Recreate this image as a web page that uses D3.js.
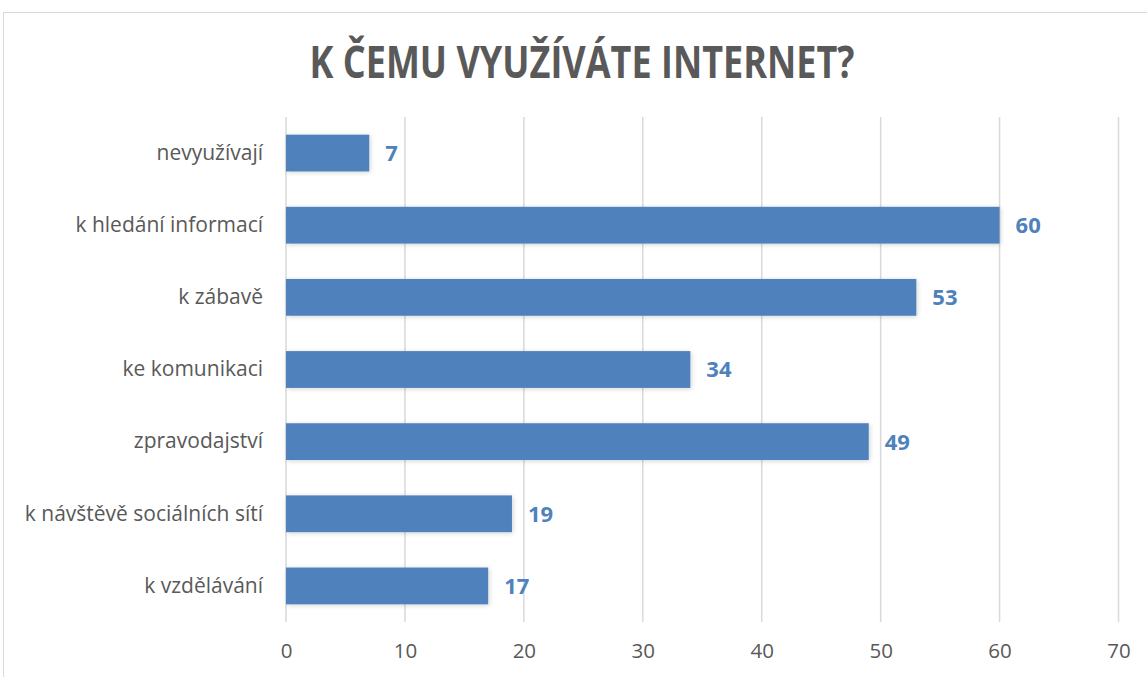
<!DOCTYPE html>
<html>
<head>
<meta charset="utf-8">
<script src="https://cdn.jsdelivr.net/npm/d3@7"></script>
<style>
body { margin: 0; background: #fff; }
svg { display: block; }
</style>
</head>
<body>
<svg id="graph"></svg>
<script>
var categories = ["nevyužívají", "k hledání informací", "k zábavě", "ke komunikaci", "zpravodajství", "k návštěvě sociálních sítí", "k vzdělávání"]
var values = [7, 60, 53, 34, 49, 19, 17]
var tickValues = [0, 10, 20, 30, 40, 50, 60, 70]
var title = "K ČEMU VYUŽÍVÁTE INTERNET?"

var screen = {width:1147, height:677}
var plot = {left:286, right:1118.5, top:117, bottom:622}
var font = "'Open Sans', sans-serif"

var svg = d3.select("#graph")
.attr("width",screen.width)
.attr("height",screen.height)

// drop shadow for bars
var filter = svg.append("defs").append("filter")
.attr("id","shadow")
.attr("x","-10%").attr("y","-30%")
.attr("width","120%").attr("height","160%")
filter.append("feGaussianBlur").attr("in","SourceAlpha").attr("stdDeviation",2.5).attr("result","blur")
filter.append("feOffset").attr("dx",1).attr("dy",1).attr("result","off")
filter.append("feComponentTransfer").append("feFuncA").attr("type","linear").attr("slope",0.18)
var merge = filter.append("feMerge")
merge.append("feMergeNode")
merge.append("feMergeNode").attr("in","SourceGraphic")

// chart border
svg.append("rect")
.attr("x",3.5).attr("y",12.5)
.attr("width",screen.width+10).attr("height",screen.height+10)
.attr("fill","none")
.attr("stroke","#d9d9d9")

var xscale = d3.scaleLinear()
.domain([0,70])
.range([plot.left,plot.right])

var yscale = d3.scaleBand()
.domain(categories)
.range([plot.top,plot.bottom])
.paddingInner(0.49)
.paddingOuter(0.245)

// gridlines
svg.append("g")
.selectAll("line")
.data(tickValues)
.enter()
.append("line")
.attr("x1",function(d){ return xscale(d) })
.attr("x2",function(d){ return xscale(d) })
.attr("y1",plot.top)
.attr("y2",plot.bottom)
.attr("stroke","#d9d9d9")
.attr("stroke-width",1.5)

// x axis labels
var xAxis = d3.axisBottom(xscale)
.tickValues(tickValues)
.tickSize(0)
.tickPadding(0)

var xg = svg.append("g")
.attr("transform","translate(0,"+(plot.bottom+21)+")")
.call(xAxis)
xg.select(".domain").remove()
xg.selectAll("text")
.attr("font-family",font)
.attr("font-size",20.5)
.attr("fill","#595959")

// y axis labels
var yAxis = d3.axisLeft(yscale)
.tickSize(0)
.tickPadding(0)

var yg = svg.append("g")
.attr("transform","translate("+(plot.left-23)+",0)")
.call(yAxis)
yg.select(".domain").remove()
yg.selectAll("text")
.attr("font-family",font)
.attr("font-size",21)
.attr("fill","#595959")

// bars
svg.append("g")
.selectAll("rect")
.data(values)
.enter()
.append("rect")
.attr("x",xscale(0))
.attr("y",function(d,i){ return yscale(categories[i]) })
.attr("width",function(d){ return xscale(d)-xscale(0) })
.attr("height",yscale.bandwidth())
.attr("fill","#4f81bd")
.attr("filter","url(#shadow)")

// value labels
svg.append("g")
.selectAll("text")
.data(values)
.enter()
.append("text")
.attr("x",function(d){ return xscale(d)+16 })
.attr("y",function(d,i){ return yscale(categories[i])+yscale.bandwidth()/2 })
.attr("dy","0.36em")
.attr("font-family",font)
.attr("font-size",22)
.attr("font-weight","bold")
.attr("fill","#4f81bd")
.text(function(d){ return d })

// title
svg.append("text")
.attr("x",582)
.attr("y",78)
.attr("text-anchor","middle")
.attr("font-family",font)
.attr("font-size",44)
.attr("font-weight","bold")
.attr("fill","#595959")
.attr("textLength",545)
.attr("lengthAdjust","spacingAndGlyphs")
.text(title)
</script>
</body>
</html>
